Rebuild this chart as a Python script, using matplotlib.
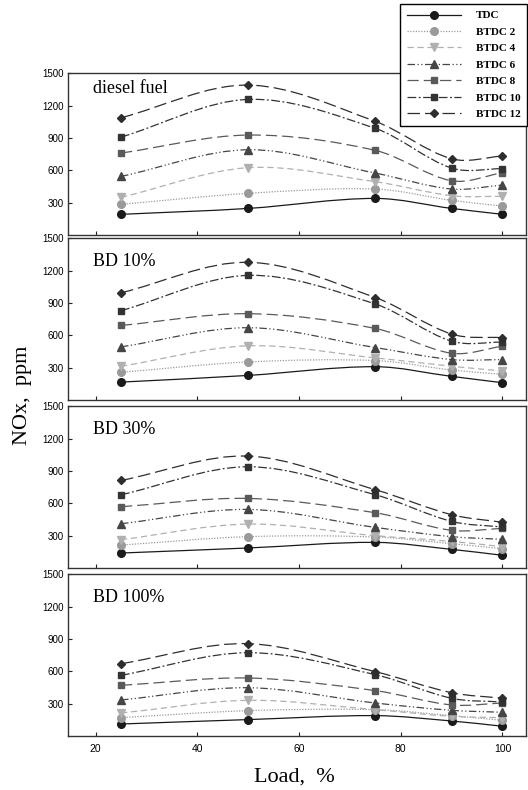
import matplotlib
matplotlib.use("Agg")
import matplotlib.pyplot as plt
from matplotlib.path import Path
from matplotlib.patches import PathPatch
from matplotlib.lines import Line2D

# data
load = [25, 50, 75, 90, 100]
timings = ["TDC", "BTDC 2", "BTDC 4", "BTDC 6", "BTDC 8", "BTDC 10", "BTDC 12"]
panel_titles = ["diesel fuel", "BD 10%", "BD 30%", "BD 100%"]

diesel = [
    [192, 247, 340, 247, 192],
    [285, 387, 427, 322, 269],
    [350, 625, 495, 365, 359],
    [544, 792, 575, 427, 464],
    [761, 928, 786, 504, 578],
    [909, 1259, 990, 622, 616],
    [1089, 1392, 1055, 708, 733],
]
bd10 = [
    [166, 228, 309, 219, 160],
    [257, 353, 366, 278, 238],
    [313, 503, 391, 313, 269],
    [493, 671, 487, 375, 375],
    [692, 801, 664, 434, 499],
    [829, 1157, 891, 546, 537],
    [995, 1278, 951, 612, 578],
]
bd30 = [
    [139, 186, 238, 173, 118],
    [213, 291, 288, 226, 179],
    [263, 408, 300, 247, 198],
    [411, 544, 377, 291, 266],
    [569, 646, 513, 350, 368],
    [680, 940, 680, 433, 380],
    [813, 1039, 727, 495, 424],
]
bd100 = [
    [111, 152, 189, 139, 90],
    [170, 235, 244, 189, 145],
    [213, 331, 244, 182, 170],
    [334, 448, 306, 238, 220],
    [470, 538, 421, 288, 306],
    [563, 773, 569, 350, 315],
    [671, 857, 597, 402, 350],
]
panels = [diesel, bd10, bd30, bd100]

colors = ["#1a1a1a", "#9a9a9a", "#b0b0b0", "#454545", "#5a5a5a", "#333333", "#2e2e2e"]
markers = ["o", "o", "v", "^", "s", "s", "D"]
msizes = [5.5, 5.5, 5.5, 5.5, 5, 5, 4.5]
styles = ["-", (0, (1, 1.2)), (0, (5, 3)), (0, (6, 2, 1, 2, 1, 2)),
          (0, (9, 4)), (0, (7, 2, 1.5, 2)), (0, (10, 4))]

serif = "Liberation Serif"
sans = "Liberation Sans"


def smooth_path(x, y):
    # cubic bezier through the points (hermite slopes), drawn in data coords
    n = len(x)
    slopes = []
    for i in range(n):
        if i == 0:
            s = (y[1] - y[0]) / (x[1] - x[0])
        elif i == n - 1:
            s = (y[-1] - y[-2]) / (x[-1] - x[-2])
        else:
            s = (y[i + 1] - y[i - 1]) / (x[i + 1] - x[i - 1])
        slopes.append(s)
    verts = [(x[0], y[0])]
    codes = [Path.MOVETO]
    for i in range(n - 1):
        h = (x[i + 1] - x[i]) / 3.0
        verts += [(x[i] + h, y[i] + slopes[i] * h),
                  (x[i + 1] - h, y[i + 1] - slopes[i + 1] * h),
                  (x[i + 1], y[i + 1])]
        codes += [Path.CURVE4] * 3
    return Path(verts, codes)


fig = plt.figure(figsize=(5.28, 7.9), dpi=100)
fig.patch.set_facecolor("white")

left, width, height = 0.129, 0.867, 0.2045
bottoms = [0.7025, 0.4937, 0.281, 0.0684]

for p, (vals, title) in enumerate(zip(panels, panel_titles)):
    ax = fig.add_axes([left, bottoms[p], width, height])
    for k in range(len(timings)):
        patch = PathPatch(smooth_path(load, vals[k]), facecolor="none",
                          edgecolor=colors[k], linestyle=styles[k], lw=0.9)
        ax.add_patch(patch)
        ax.plot(load, vals[k], ls="none", marker=markers[k], ms=msizes[k],
                color=colors[k], zorder=3)
    ax.set_xlim(14.6, 104.6)
    ax.set_ylim(0, 1500)
    ax.set_xticks([20, 40, 60, 80, 100])
    ax.set_yticks([300, 600, 900, 1200, 1500])
    ax.tick_params(axis="both", direction="in", length=3, width=0.8,
                   colors="#222222", labelsize=7, labelcolor="black")
    ax.tick_params(axis="y", pad=3)
    ax.tick_params(axis="x", pad=6, labelsize=7.5)
    for lab in ax.get_xticklabels() + ax.get_yticklabels():
        lab.set_fontfamily(sans)
    if p < 3:
        ax.tick_params(axis="x", labelbottom=False)
    for sp in ax.spines.values():
        sp.set_color("#333333")
        sp.set_linewidth(1.0)
    ty = 0.91 if p == 0 else 0.86
    ax.text(0.055, ty, title, transform=ax.transAxes, fontsize=13,
            fontfamily=serif, va="center", ha="left")

fig.text(0.042, 0.5, "NOx,  ppm", rotation=90, fontsize=16, fontfamily=serif,
         va="center", ha="center")
fig.text(0.557, 0.016, "Load,  %", fontsize=16, fontfamily=serif,
         va="center", ha="center")

handles = [Line2D([0], [0], color=colors[k], ls=styles[k], lw=0.9,
                  marker=markers[k], ms=msizes[k]) for k in range(len(timings))]
leg = fig.legend(handles, timings, loc="upper right",
                 bbox_to_anchor=(0.998, 0.995), borderaxespad=0,
                 frameon=True, fancybox=False,
                 edgecolor="black", framealpha=1, handlelength=4.9,
                 handletextpad=1.3, labelspacing=0.6, borderpad=0.6,
                 prop={"family": serif, "weight": "bold", "size": 8})
leg.get_frame().set_linewidth(1.0)

fig.savefig("out.png", dpi=100)
